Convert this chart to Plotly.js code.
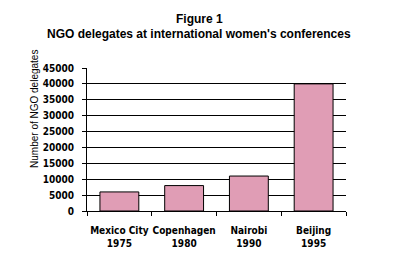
<!DOCTYPE html>
<html><head><meta charset="utf-8">
<script src="https://cdn.plot.ly/plotly-3.0.1.min.js"></script>
<style>html,body{margin:0;padding:0;background:#fff}#c{width:398px;height:262px}</style>
</head><body><div id="c"></div>
<script>
const categories = ["Mexico City<br>1975", "Copenhagen<br>1980", "Nairobi<br>1990", "Beijing<br>1995"];
const delegates = [6000, 8000, 11000, 40000];
const yTicks = [0, 5000, 10000, 15000, 20000, 25000, 30000, 35000, 40000, 45000];

const narrow = "'DejaVu Sans Condensed', 'Liberation Sans Narrow', 'Arial Narrow', sans-serif";
const data = [{
  type: 'bar', x: categories, y: delegates,
  marker: {color: '#E09DB5', line: {color: '#000', width: 1}},
  hoverinfo: 'none'
}];
const layout = {
  width: 398, height: 262,
  margin: {l: 87, r: 52, t: 68, b: 51, pad: 0},
  paper_bgcolor: '#fff', plot_bgcolor: '#fff',
  showlegend: false, bargap: 0.4,
  xaxis: {type: 'category', tickson: 'boundaries', ticks: 'outside', ticklen: 4, tickcolor: '#000', tickwidth: 1,
    showline: true, linecolor: '#000', linewidth: 1, showgrid: false, zeroline: false, tickangle: 0,
    ticklabelstandoff: 10,
    tickfont: {family: narrow, size: 10, color: '#000', weight: 'bold'}},
  yaxis: {range: [0, 45000], tickvals: yTicks, ticktext: yTicks.map(String), ticks: 'outside', ticklen: 4,
    tickcolor: '#000', showline: true, linecolor: '#000', linewidth: 1,
    showgrid: true, gridcolor: '#000', gridwidth: 1, zeroline: false, ticklabelstandoff: 6,
    tickfont: {family: narrow, size: 10, color: '#000', weight: 'bold'}},
  annotations: [
    {text: '<b>Figure 1</b>', xref: 'paper', yref: 'paper', x: 112/259, y: (211 - 10) / 143,
      xanchor: 'center', yanchor: 'top', showarrow: false,
      font: {family: 'Arial, Liberation Sans, sans-serif', size: 12, color: '#000'}},
    {text: '<b>NGO delegates at international women\'s conferences</b>', xref: 'paper', yref: 'paper',
      x: 112/259, y: (211 - 25) / 143, xanchor: 'center', yanchor: 'top', showarrow: false,
      font: {family: 'Arial, Liberation Sans, sans-serif', size: 12, color: '#000'}},
    {text: 'Number of NGO delegates', textangle: -90, xref: 'paper', yref: 'paper',
    x: -52/259, y: 0.287, xanchor: 'center', yanchor: 'bottom', showarrow: false,
    font: {family: 'Arial, Liberation Sans, sans-serif', size: 10, color: '#000'}}]
};
Plotly.newPlot('c', data, layout, {staticPlot: true, displayModeBar: false});
</script></body></html>
